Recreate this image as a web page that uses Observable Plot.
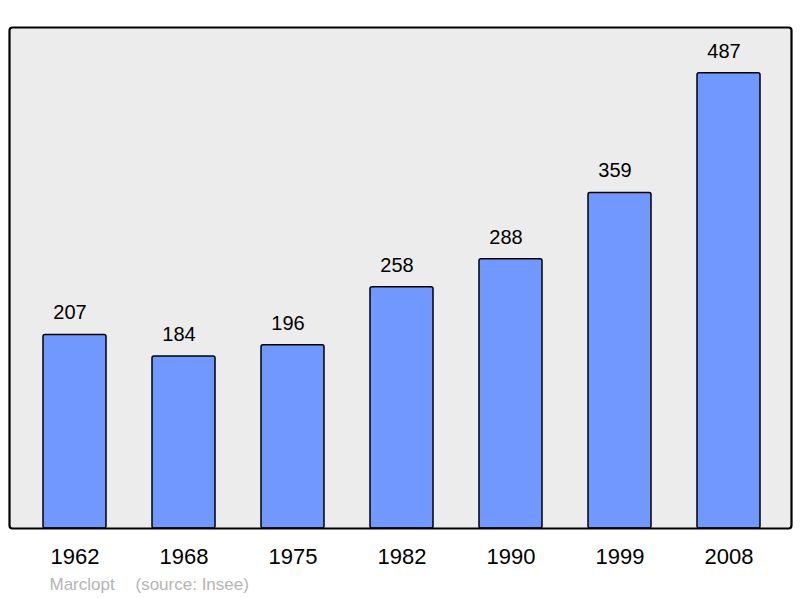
<!DOCTYPE html>
<html>
<head>
<meta charset="utf-8">
<script src="https://cdn.jsdelivr.net/npm/d3@7"></script>
<script src="https://cdn.jsdelivr.net/npm/@observablehq/plot@0.6"></script>
<style>
  body { margin: 0; background: #ffffff; }
  #chart svg { display: block; }
</style>
</head>
<body>
<div id="chart"></div>
<script>
const years = ["1962", "1968", "1975", "1982", "1990", "1999", "2008"];
const population = [207, 184, 196, 258, 288, 359, 487];
const captionAuthor = "Marclopt";
const captionSource = "(source: Insee)";

const data = years.map((y, i) => ({year: y, value: population[i]}));
const font = "'Liberation Sans', Arial, sans-serif";

const chart = Plot.plot({
  width: 800,
  height: 598,
  marginTop: 27,
  marginBottom: 70,
  marginLeft: 9,
  marginRight: 9,
  style: {fontFamily: font, background: "#ffffff"},
  x: {type: "band", domain: years, range: [18.3, 784.2], paddingInner: 0.424, paddingOuter: 0.212, axis: null},
  y: {domain: [0, 536], axis: null},
  marks: [
    Plot.frame({fill: "#ececec", stroke: null}),
    Plot.barY(data, {x: "year", y: "value", fill: "#7098ff", stroke: "#000000", strokeWidth: 1.5, rx: 2}),
    Plot.text(data, {x: "year", y: "value", text: d => String(d.value), dy: -22, dx: -5, fontSize: 20, fill: "#000000"}),
    Plot.text(data, {x: "year", frameAnchor: "bottom", text: "year", dy: 35, fontSize: 22, fill: "#000000"}),
    Plot.text([captionAuthor], {frameAnchor: "bottom-left", text: d => d, dx: 40, dy: 61, textAnchor: "start", fontSize: 17, fill: "#b5b5b5"}),
    Plot.text([captionSource], {frameAnchor: "bottom-left", text: d => d, dx: 126, dy: 61, textAnchor: "start", fontSize: 17, fill: "#b5b5b5"}),
    Plot.frame({fill: "none", stroke: "#000000", strokeWidth: 2.2, rx: 3})
  ]
});
document.getElementById("chart").appendChild(chart);
</script>
</body>
</html>
